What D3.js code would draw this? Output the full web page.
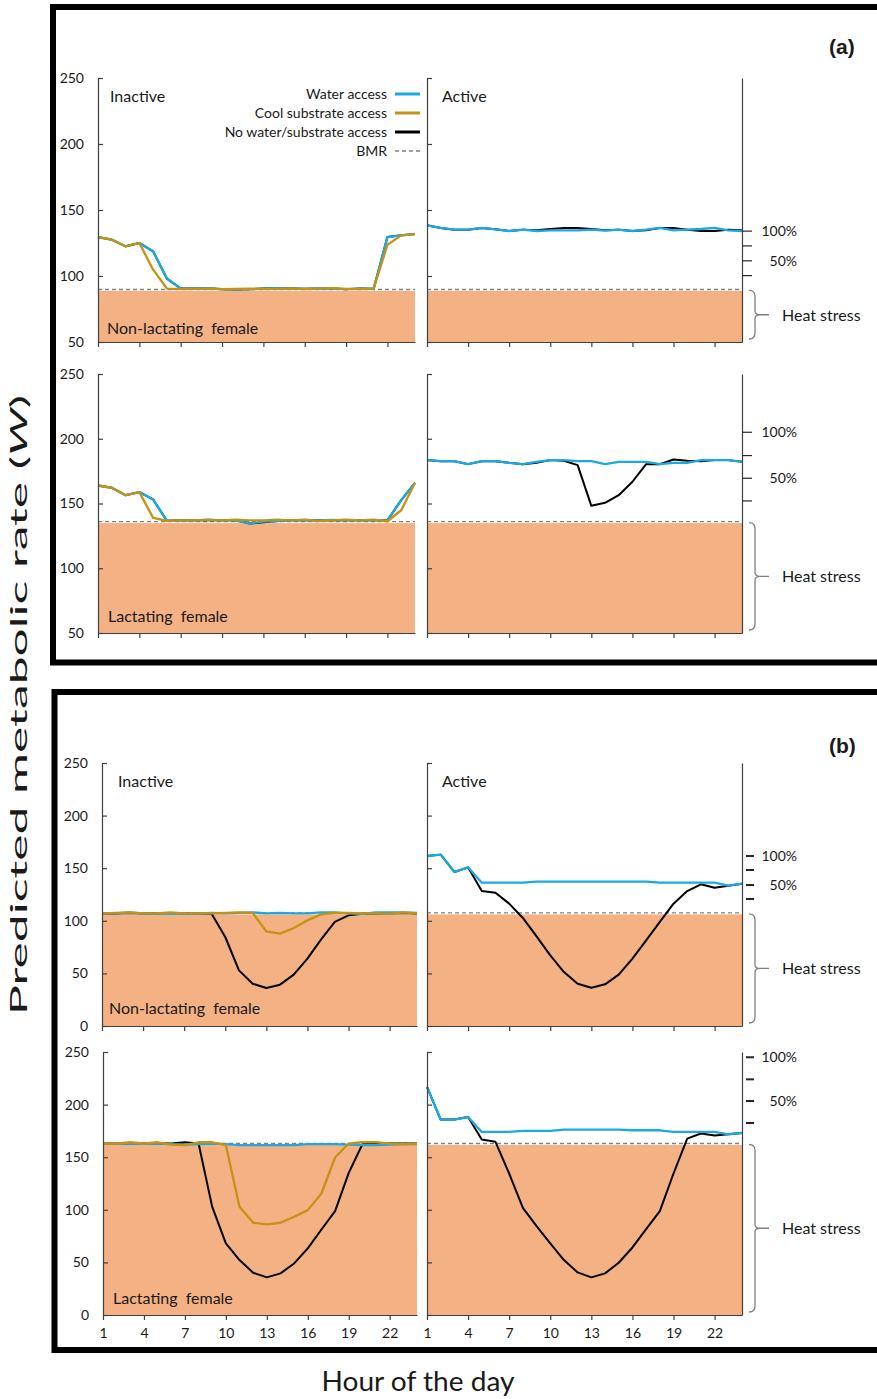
<!DOCTYPE html>
<meta charset="utf-8">
<style>
    body { margin: 0; background: #fff; }
    svg text { font-family: Lato, "Open Sans", sans-serif; fill: #1a1a1a; }
    .axis path, .axis line { stroke: #404040; stroke-width: 1.2px; }
    .axis text { font-family: Lato, sans-serif; font-size: 14px; fill: #1a1a1a; }
</style>
<svg width="877" height="1399"></svg>
<script src="https://d3js.org/d3.v7.min.js"></script>
<script>

    var hours = [1, 2, 3, 4, 5, 6, 7, 8, 9, 10, 11, 12, 13, 14, 15, 16, 17, 18, 19, 20, 21, 22, 23, 24];
    var tickHours = [1, 4, 7, 10, 13, 16, 19, 22];
    var yTicksA = [50, 100, 150, 200, 250];
    var yTicksB = [0, 50, 100, 150, 200, 250];
    var pctLabels = ["100%", "50%"];

    // (a) non-lactating female
    var bmrA1 = 89.8;
    var a1InactiveWater = [129.5, 127.5, 122.5, 125, 118.7, 98, 90.5, 90.5, 90.8, 90, 89.8, 90, 90.5, 90.8, 90.5, 90.3, 90.5, 90.5, 90, 90.5, 90.3, 129.5, 130.8, 131.8];
    var a1InactiveCool = [129.5, 127.5, 122.5, 125, 104.8, 90.5, 90, 90.3, 90.5, 90, 90.3, 90.5, 90, 90.3, 90.5, 90, 90.5, 90.8, 90.3, 90, 90.5, 123.7, 130.8, 131.8];
    var a1InactiveNone = [129.5, 127.5, 122.5, 125, 118.7, 98, 90.5, 90.5, 90.8, 90, 89.8, 90, 90.5, 90.8, 90.5, 90.3, 90.5, 90.5, 90, 90.5, 90.3, 129.5, 130.8, 131.8];
    var a1ActiveWater = [138.4, 136.4, 135.1, 135.1, 136.4, 135.4, 134.1, 135.1, 134.1, 134.6, 134.6, 134.6, 135.1, 134.3, 135.1, 134.1, 135.1, 136.4, 134.6, 135.1, 135.6, 136.4, 134.6, 134.1];
    var a1ActiveNone = [138.4, 136.4, 135.1, 135.1, 136.4, 135.4, 134.1, 135.1, 134.6, 135.6, 136.4, 136.4, 135.6, 134.6, 135.1, 134.1, 134.6, 136.4, 136.4, 135.1, 134.1, 134.1, 135.1, 134.6];
    var a1Pct = [100.3, 111.5, 122.8, 134];

    // (a) lactating female
    var bmrA2 = 136;
    var a2InactiveWater = [163.9, 162.1, 156.4, 158.8, 153.1, 136.6, 137, 137, 137.3, 137, 137, 134.5, 136, 136.5, 137, 137, 137, 137.3, 137, 137, 137, 137, 152.6, 166];
    var a2InactiveCool = [163.9, 162.1, 156.4, 158.8, 138.9, 136.6, 137, 137, 137.5, 137, 137.5, 137, 137, 137.5, 137, 137.5, 136.5, 137, 137.5, 137, 137.5, 136.3, 144.8, 166];
    var a2InactiveNone = [163.9, 162.1, 156.4, 158.8, 153.1, 136.6, 137, 137, 137.3, 137, 137, 134.5, 135.5, 136.5, 137, 137, 137, 137.3, 137, 137, 137, 137, 152.6, 166];
    var a2ActiveWater = [183.5, 182.7, 182.7, 180.4, 182.7, 182.7, 181.4, 180.4, 182.2, 183.5, 183.5, 182.7, 182.7, 180.4, 182.2, 182.2, 182.2, 180.4, 181.4, 181.4, 183.5, 183.5, 183.5, 182.2];
    var a2ActiveNone = [183.5, 182.7, 182.7, 180.4, 182.7, 182.7, 181.4, 180.4, 181.4, 183.5, 183, 179.6, 148.2, 150.5, 156.4, 166.8, 180.4, 180.4, 184, 183, 182.7, 183.5, 183.5, 182.2];
    var a2Pct = [152, 169.5, 187, 205];

    // (b) non-lactating female
    var bmrB1 = 107.5;
    var b1InactiveWater = [107, 107, 108, 107, 106.5, 107, 106.5, 107, 107.5, 107, 107.5, 108, 107, 107.5, 107, 107, 108, 108, 107, 106.5, 108, 108, 108, 107.5];
    var b1InactiveCool = [107, 107.5, 108, 107, 107, 108, 107, 107, 107, 107.5, 108, 107.5, 90, 87.8, 93.2, 100.4, 106.1, 107.4, 107.5, 107, 107, 106.5, 108, 107];
    var b1InactiveNone = [107, 107, 107.5, 107, 107, 107.5, 107, 107, 106.8, 84.6, 52.9, 40.2, 36.1, 39.3, 48.8, 64, 82.4, 98.9, 105.2, 106.8, 107, 107, 107.5, 107];
    var b1ActiveWater = [161.6, 162.9, 146.4, 150.8, 136.2, 136.2, 136.2, 136.2, 137.2, 137.2, 137.2, 137.2, 137.2, 137.2, 137.2, 137.2, 137.2, 136.2, 136.2, 136.2, 136.2, 136.2, 133.4, 135.3];
    var b1ActiveNone = [161.6, 162.9, 146.4, 150.8, 128.3, 126.7, 116.3, 102.7, 85.2, 67.2, 51.3, 40.2, 36.4, 39.6, 48.8, 64, 81.4, 98.9, 116.3, 128.3, 134.7, 131.5, 133.4, 135.3];
    var b1Pct = [120.7, 134, 148.3, 161.6];

    // (b) lactating female
    var bmrB2 = 163;
    var b2InactiveWater = [163, 163, 163, 163, 163, 162.5, 162, 162.5, 163, 162.5, 161.4, 161.5, 161.5, 161.5, 161.4, 162.5, 162.5, 162.5, 162, 161.5, 161.5, 162, 162.5, 162.5];
    var b2InactiveCool = [163, 163, 164.2, 163, 164.2, 162, 161.4, 164.2, 164.2, 161.4, 102.8, 87.7, 86.1, 87.7, 93.4, 99.7, 115.5, 149.7, 163, 164.2, 164.2, 163, 162.3, 163];
    var b2InactiveNone = [163, 163, 163, 163, 163, 163, 164.2, 163, 102.8, 68, 52.2, 40.2, 35.8, 39.6, 49, 63.3, 81.3, 98.7, 135.1, 162.3, 163, 163, 163, 163];
    var b2ActiveWater = [216.8, 185.8, 185.8, 188.3, 174, 174, 174, 175, 175, 175, 176.3, 176.3, 176.3, 176.3, 176.3, 175.6, 175.6, 175.6, 174, 174, 174, 174, 171.8, 173.1];
    var b2ActiveNone = [216.8, 185.8, 185.8, 188.3, 166.8, 164.6, 134.5, 101.9, 84.5, 68, 52.2, 40.5, 35.8, 39.6, 49.7, 64.2, 81.6, 98.7, 134.5, 167.7, 172.5, 170.6, 171.8, 173.1];
    var b2Pct = [182.5, 203.4, 224, 245];

    var legendLabels = ["Water access", "Cool substrate access", "No water/substrate access", "BMR"];

    var colWater = "#1aa9e2",
        colCool = "#c39318",
        colNone = "#000000",
        colFill = "#f4b183",
        colBmr = "#808080";

    var svg = d3.select("svg");

    // layout of the four rows of panels
    var rows = [
        {top: 78, bottom: 342, ymin: 50, yTicks: yTicksA, xl0: 98, xl1: 415, bmr: bmrA1, pct: a1Pct, pctStyle: "a",
            inactive: [a1InactiveNone, a1InactiveWater, a1InactiveCool], active: [a1ActiveNone, a1ActiveWater],
            label: "Non-lactating  female", labelX: 107, labelY: 334, titles: true, inX: 110, legend: true, xLabels: false},
        {top: 374, bottom: 633, ymin: 50, yTicks: yTicksA, xl0: 98, xl1: 415, bmr: bmrA2, pct: a2Pct, pctStyle: "a",
            inactive: [a2InactiveNone, a2InactiveWater, a2InactiveCool], active: [a2ActiveNone, a2ActiveWater],
            label: "Lactating  female", labelX: 108, labelY: 622, titles: false, xLabels: false},
        {top: 763, bottom: 1026, ymin: 0, yTicks: yTicksB, xl0: 102, xl1: 417, bmr: bmrB1, pct: b1Pct, pctStyle: "b",
            inactive: [b1InactiveNone, b1InactiveWater, b1InactiveCool], active: [b1ActiveNone, b1ActiveWater],
            label: "Non-lactating  female", labelX: 109, labelY: 1014, titles: true, inX: 118, xLabels: false},
        {top: 1052, bottom: 1315, ymin: 0, yTicks: yTicksB, xl0: 103, xl1: 417, bmr: bmrB2, pct: b2Pct, pctStyle: "b",
            inactive: [b2InactiveNone, b2InactiveWater, b2InactiveCool], active: [b2ActiveNone, b2ActiveWater],
            label: "Lactating  female", labelX: 113, labelY: 1304, titles: false, xLabels: true}
    ];

    var seriesColors = [colNone, colWater, colCool];

    // outer frames
    svg.append("rect").attr("x", 53).attr("y", 7).attr("width", 900).attr("height", 655.5)
        .attr("fill", "none").attr("stroke", "#000").attr("stroke-width", 6);
    svg.append("rect").attr("x", 54.5).attr("y", 692).attr("width", 900).attr("height", 658)
        .attr("fill", "none").attr("stroke", "#000").attr("stroke-width", 6);

    svg.append("text").attr("x", 829).attr("y", 54).text("(a)")
        .style("font-family", "'Liberation Sans', Arial, sans-serif").style("font-weight", "bold").style("font-size", "21px");
    svg.append("text").attr("x", 829).attr("y", 753).text("(b)")
        .style("font-family", "'Liberation Sans', Arial, sans-serif").style("font-weight", "bold").style("font-size", "21px");

    rows.forEach(drawRow);

    function drawRow(r) {
        var y = d3.scaleLinear().domain([r.ymin, 250]).range([r.bottom, r.top]);
        var xL = d3.scaleLinear().domain([1, 24]).range([r.xl0, r.xl1]);
        var xR = d3.scaleLinear().domain([1, 24]).range([427, 742]);

        drawPanel(r, xL, y, r.inactive, true);
        drawPanel(r, xR, y, r.active, false);

        // right hand axis of the active panel
        svg.append("g").attr("class", "axis")
            .attr("transform", "translate(" + xR(24) + ",0)")
            .call(d3.axisRight(y).tickValues([]).tickSizeOuter(0));

        var pt = svg.append("g");
        pt.selectAll("line").data(r.pct).enter().append("line")
            .attr("x1", r.pctStyle === "a" ? xR(24) : xR(24) + 4)
            .attr("x2", r.pctStyle === "a" ? xR(24) + 10 : xR(24) + 12)
            .attr("y1", function (d) { return y(d); })
            .attr("y2", function (d) { return y(d); })
            .attr("stroke", "#262626")
            .attr("stroke-width", r.pctStyle === "a" ? 1.2 : 2);
        pt.selectAll("text").data(pctLabels).enter().append("text")
            .attr("x", 797)
            .attr("y", function (d, i) { return y(r.pct[3 - 2 * i]) + 5; })
            .attr("text-anchor", "end")
            .style("font-size", "14px")
            .text(function (d) { return d; });

        // heat stress brace
        var bx = xR(24) + 13,
            b0 = y(r.bmr) + 1,
            b1 = y(r.ymin) - 3,
            m = (b0 + b1) / 2;
        svg.append("path")
            .attr("d", "M" + (bx - 6) + "," + b0 + "Q" + bx + "," + b0 + " " + bx + "," + (b0 + 6) +
                "V" + (m - 4) + "Q" + bx + "," + m + " " + (bx + 5) + "," + m + "H" + (bx + 14) +
                "M" + (bx + 5) + "," + m + "Q" + bx + "," + m + " " + bx + "," + (m + 4) +
                "V" + (b1 - 6) + "Q" + bx + "," + b1 + " " + (bx - 6) + "," + b1)
            .attr("fill", "none").attr("stroke", "#7f7f7f").attr("stroke-width", 1.3);
        svg.append("text").attr("x", bx + 27).attr("y", m + 6).text("Heat stress").style("font-size", "16px");

        svg.append("text").attr("x", r.labelX).attr("y", r.labelY).text(r.label)
            .style("font-size", "16px").style("white-space", "pre");

        if (r.titles) {
            svg.append("text").attr("x", r.inX).attr("y", y(250) + 24).text("Inactive").style("font-size", "16px");
            svg.append("text").attr("x", xR(1) + 15).attr("y", y(250) + 24).text("Active").style("font-size", "16px");
        }

        if (r.legend) drawLegend();
    }

    function drawPanel(r, x, y, series, isLeft) {
        var g = svg.append("g");

        g.append("rect")
            .attr("x", x(1))
            .attr("y", y(r.bmr) + 1.5)
            .attr("width", x(24) - x(1))
            .attr("height", y(r.ymin) - y(r.bmr) - 1.5)
            .attr("fill", colFill);

        g.append("line")
            .attr("x1", x(1)).attr("x2", x(24))
            .attr("y1", y(r.bmr)).attr("y2", y(r.bmr))
            .attr("stroke", colBmr).attr("stroke-width", 1.4).attr("stroke-dasharray", "4,3");

        var line = d3.line()
            .x(function (d, i) { return x(hours[i]); })
            .y(function (d) { return y(d); });

        g.selectAll("path.series").data(series).enter().append("path")
            .attr("class", "series")
            .attr("d", line)
            .attr("fill", "none")
            .attr("stroke", function (d, i) { return seriesColors[i]; })
            .attr("stroke-width", function (d, i) { return i === 0 ? 2 : 2.3; })
            .attr("stroke-linejoin", "round");

        var yAxis = d3.axisLeft(y).tickValues(r.yTicks).tickSizeInner(-5).tickSizeOuter(0).tickPadding(14);
        if (!isLeft) yAxis.tickFormat("");
        svg.append("g").attr("class", "axis")
            .attr("transform", "translate(" + x(1) + ",0)")
            .call(yAxis)
            .call(function (s) { s.attr("font-size", null).attr("font-family", null); });

        var xAxis = d3.axisBottom(x).tickValues(tickHours).tickSizeInner(5).tickSizeOuter(0).tickPadding(8);
        if (!r.xLabels) xAxis.tickFormat("");
        svg.append("g").attr("class", "axis")
            .attr("transform", "translate(0," + y(r.ymin) + ")")
            .call(xAxis)
            .call(function (s) { s.attr("font-size", null).attr("font-family", null); });
    }

    function drawLegend() {
        var lg = svg.append("g");
        var cols = [colWater, colCool, colNone, colBmr];
        legendLabels.forEach(function (d, i) {
            var yy = 94 + i * 19;
            lg.append("text").attr("x", 387).attr("y", yy + 5)
                .attr("text-anchor", "end").style("font-size", "14px").text(d);
            lg.append("line").attr("x1", 395).attr("x2", 420).attr("y1", yy).attr("y2", yy)
                .attr("stroke", cols[i])
                .attr("stroke-width", i === 3 ? 1.4 : 3)
                .attr("stroke-dasharray", i === 3 ? "4,3" : null);
        });
    }

    // axis titles
    var yt = svg.append("text")
        .attr("transform", "translate(27,705) rotate(-90)")
        .attr("text-anchor", "middle")
        .attr("textLength", 620)
        .attr("lengthAdjust", "spacingAndGlyphs")
        .style("font-size", "24px");
    yt.append("tspan").text("Predicted metabolic rate (");
    yt.append("tspan").style("font-style", "italic").text("W");
    yt.append("tspan").text(")");

    svg.append("text")
        .attr("x", 418).attr("y", 1391)
        .attr("text-anchor", "middle")
        .attr("textLength", 193)
        .attr("lengthAdjust", "spacingAndGlyphs")
        .style("font-size", "27px")
        .text("Hour of the day");

</script>
